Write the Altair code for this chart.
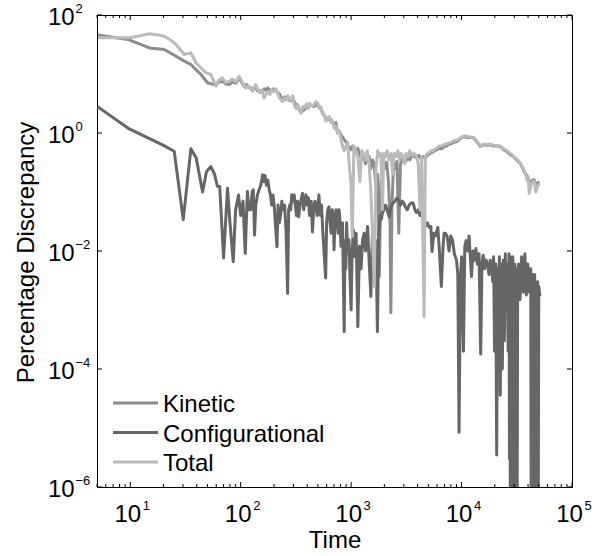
import altair as alt
import pandas as pd

FONT = "Liberation Sans"

# ---------------- data ----------------
kin_t = [5.1, 9.8, 14.9, 20.3, 26, 30, 35.4, 40, 43.7, 50,
         57.6, 63, 68.5, 73, 78.7, 84, 90, 97, 103, 108,
         113, 118, 123, 128, 133, 137, 142, 148, 153, 158,
         164, 170, 175, 181, 190, 198, 208, 217, 225, 232,
         239, 250, 258, 265, 275, 285, 295, 305, 318, 330,
         340, 351, 365, 380, 395, 410, 420, 440, 463, 480,
         500, 516, 532, 550, 570, 590, 611, 635, 656, 680,
         700, 727, 753, 780, 807, 835, 865, 900, 930, 960,
         994, 1030, 1070, 1110, 1150, 1200, 1250, 1300, 1350, 1400,
         1455, 1510, 1560, 1614, 1680, 1740, 1800, 1850, 1900, 1960,
         2020, 2100, 2180, 2250, 2290, 2340, 2420, 2500, 2600, 2700,
         2800, 2900, 3000, 3120, 3250, 3400, 3550, 3720, 3900, 4100,
         4300, 4500, 4700, 4900, 5100, 5270, 5500, 5750, 6000, 6300,
         6600, 6950, 7300, 7700, 8100, 8600, 9160, 9700, 10500, 11200,
         12000, 12900, 13800, 14800, 15800, 17000, 18200, 19500, 21000, 22400,
         24000, 25800, 27600, 29500, 31500, 33000, 34000, 35500, 37000, 38200,
         39000, 40000, 41000, 42500, 44000, 45600, 47000, 48500, 50500]
kin_v = [46, 38, 27.7, 26, 20, 17, 14.5, 11.5, 9.8, 7.1,
         6.6, 7.2, 7.5, 6.8, 6.6, 7.3, 7.0, 8.6, 7.0, 6.2,
         6.6, 6.0, 5.8, 5.4, 5.9, 5.7, 5.2, 5.0, 5.3, 5.1,
         5.6, 5.3, 5.8, 5.5, 5.2, 5.6, 5.4, 4.8, 4.6, 4.0,
         3.7, 4.1, 3.7, 3.9, 3.6, 3.5, 4.2, 3.4, 3.0, 2.9,
         2.5, 2.2, 2.4, 2.5, 2.8, 2.7, 3.0, 2.9, 2.8, 3.1,
         2.9, 2.7, 2.65, 2.2, 2.0, 1.8, 1.68, 1.75, 1.7, 1.55,
         1.4, 1.5, 1.0, 1.05, 0.95, 0.85, 0.77, 0.7, 0.62, 0.58,
         0.52, 0.6, 0.5, 0.45, 0.55, 0.42, 0.35, 0.45, 0.3, 0.4,
         0.4, 0.25, 0.35, 0.31, 0.12, 0.2, 0.0037, 0.08, 0.3, 0.35,
         0.25, 0.32, 0.15, 0.03, 0.0009, 0.05, 0.3, 0.25, 0.33, 0.02,
         0.3, 0.35, 0.4, 0.33, 0.38, 0.35, 0.42, 0.4, 0.38, 0.42,
         0.36, 0.4, 0.38, 0.42, 0.44, 0.46, 0.48, 0.5, 0.52, 0.55,
         0.54, 0.59, 0.6, 0.65, 0.66, 0.7, 0.72, 0.8, 0.87, 0.85,
         0.84, 0.82, 0.7, 0.59, 0.63, 0.62, 0.63, 0.6, 0.6, 0.59,
         0.52, 0.48, 0.43, 0.4, 0.35, 0.32, 0.31, 0.26, 0.22, 0.2,
         0.195, 0.17, 0.15, 0.14, 0.16, 0.16, 0.12, 0.14, 0.15]

cfg_t = [5.05, 9.8, 14, 19.6, 25, 30.2, 35.4, 39.5, 45.2, 49,
         53.7, 58, 61.6, 64.6, 70, 76, 80, 85.6, 90, 95.6,
         100, 105, 110, 115, 119, 123.5, 127, 130, 133.5, 137,
         142, 147, 152, 158, 162, 166, 171, 176, 181, 186,
         191, 196, 201, 206, 213, 218, 224, 231, 236, 243,
         250, 258, 266, 272, 278, 284, 290, 297, 305, 312,
         320, 327, 335, 345, 355, 363, 372, 381, 390, 400,
         410, 420, 435, 447, 458, 470, 480, 492, 511, 525,
         540, 555, 568, 588, 600, 615, 630, 645, 660, 675,
         690, 700, 715, 730, 747, 763, 777, 790, 810, 835,
         865, 880, 895, 910, 930, 955, 975, 1000, 1020, 1050,
         1080, 1110, 1150, 1190, 1230, 1270, 1310, 1350, 1410, 1460,
         1510, 1560, 1600, 1630, 1680, 1730, 1780, 1830, 1880, 1920,
         1980, 2050, 2120, 2210, 2290, 2380, 2500, 2600, 2700, 2800,
         2900, 3000, 3110, 3230, 3350, 3500, 3640, 3780, 3900, 4050,
         4200, 4350, 4500, 4700, 4900, 5100, 5270, 5400, 5600, 5800,
         6100, 6300, 6560, 6800, 6950, 7150, 7400, 7700, 8000, 8300,
         8600, 9000, 9250, 9490, 9750, 10000, 10400, 10700, 11000, 11400,
         11700, 12000, 12300, 12700, 13100, 13500, 13900, 14400, 14900, 15300,
         15700, 16200, 16700, 17200, 17700, 18200, 18700, 19200, 19500, 19900,
         20400, 20800, 21200, 21600, 22000, 22400, 22900, 23400, 23900, 24400,
         24900, 25400, 25900, 26400, 26900, 27150, 27400, 27650, 27900, 28200,
         28500, 28800, 29100, 29400, 29700, 30000, 30300, 30600, 30900, 31200,
         31500, 31850, 32200, 32800, 33800, 35000, 36200, 37400, 38600,
         39800, 41100, 42300, 42750, 43200, 43650, 44100, 44550, 45000, 45450,
         45900, 46400, 46900, 47400, 47900, 48400, 48900, 49400, 50000, 51200]
cfg_v = [2.8, 1.17, 0.85, 0.63, 0.49, 0.034, 0.54, 0.38, 0.10, 0.22,
         0.27, 0.2, 0.124, 0.124, 0.0076, 0.116, 0.03, 0.0066, 0.05, 0.089,
         0.04, 0.07, 0.0091, 0.102, 0.05, 0.05, 0.1, 0.109, 0.0186, 0.06,
         0.09, 0.11, 0.13, 0.195, 0.15, 0.19, 0.13, 0.16, 0.11, 0.09,
         0.06, 0.089, 0.06, 0.03, 0.0118, 0.06, 0.03, 0.044, 0.07, 0.05,
         0.06, 0.02, 0.0019, 0.05, 0.06, 0.05, 0.09, 0.07, 0.089, 0.06,
         0.04, 0.07, 0.038, 0.06, 0.08, 0.095, 0.05, 0.07, 0.09, 0.06,
         0.08, 0.04, 0.07, 0.021, 0.05, 0.07, 0.06, 0.04, 0.089, 0.04,
         0.06, 0.02, 0.01, 0.0035, 0.03, 0.05, 0.056, 0.03, 0.02, 0.05,
         0.04, 0.0105, 0.03, 0.05, 0.04, 0.02, 0.05, 0.035, 0.012, 0.03,
         4.3e-4, 0.015, 0.005, 0.03, 0.01, 0.0155, 0.004, 0.001, 0.01, 0.023,
         0.008, 0.02, 5.2e-4, 0.012, 0.005, 0.0155, 0.02, 0.01, 0.026, 0.006,
         0.0017, 0.02, 0.009, 0.0032, 0.015, 4.3e-4, 0.02, 0.04, 0.035, 0.044,
         0.05, 0.06, 0.05, 0.038, 0.055, 0.065, 0.07, 0.079, 0.072, 0.06,
         0.07, 0.065, 0.055, 0.05, 0.06, 0.065, 0.065, 0.05, 0.045, 0.05,
         0.04, 0.045, 0.03, 0.026, 0.03, 0.025, 0.026, 0.0098, 0.02, 0.018,
         0.025, 0.01, 0.0025, 0.012, 0.02, 0.02, 0.018, 0.01, 0.018, 0.015,
         0.009, 0.007, 0.004, 8.5e-6, 0.003, 0.008, 2e-4, 0.012, 0.015, 0.01,
         0.018, 0.008, 0.0037, 0.01, 0.007, 0.011, 0.006, 0.009, 1.8e-4, 0.006,
         0.0085, 0.005, 0.007, 0.006, 0.004, 0.007, 0.005, 0.003, 0.008, 2e-4,
         0.006, 3.5e-6, 0.005, 5e-4, 0.008, 3.6e-5, 0.006, 1e-4, 0.007, 3e-4,
         0.009, 0.001, 0.006, 2e-4, 0.009, 3e-6, 0.007, 1e-7, 0.008, 1e-7,
         0.006, 1e-7, 0.008, 1e-7, 0.005, 1e-7, 0.006, 1e-7, 0.004, 1e-7,
         0.005, 1e-7, 0.004, 0.006, 0.0015, 0.008, 0.002, 0.009, 0.0018,
         0.006, 0.002, 0.005, 1e-7, 0.003, 1e-7, 0.004, 1e-7, 0.003, 1e-7,
         0.004, 1e-7, 0.003, 1e-7, 0.002, 1e-7, 0.003, 1e-7, 0.0025, 0.0017]

tot_t = [5.1, 9.8, 12, 14.9, 18, 20.3, 23, 26, 30.8, 35.4,
         39.5, 44, 48.4, 53.7, 59.8, 63, 68.5, 73, 78.7, 84,
         90, 97, 104, 111, 118, 123, 128, 137, 143, 150,
         156, 163, 170, 176, 184, 190, 198, 208, 217, 225,
         239, 250, 258, 268, 280, 295, 305, 318, 330, 340,
         351, 365, 380, 395, 410, 420, 440, 463, 480, 500,
         516, 532, 550, 570, 590, 611, 635, 656, 680, 700,
         727, 753, 780, 807, 835, 865, 900, 930, 960, 994,
         1025, 1060, 1100, 1150, 1200, 1250, 1300, 1350, 1400, 1455,
         1510, 1560, 1620, 1680, 1740, 1800, 1860, 1920, 1980, 2050,
         2120, 2200, 2290, 2380, 2450, 2550, 2650, 2750, 2850, 2950,
         3050, 3150, 3280, 3400, 3550, 3720, 3900, 4050, 4200, 4350,
         4450, 4580, 4700, 4900, 5100, 5270, 5500, 5750, 6000, 6300,
         6600, 6950, 7300, 7700, 8100, 8600, 9160, 9700, 10500, 11200,
         12000, 12900, 13800, 14800, 15800, 17000, 18200, 19500, 21000, 22400,
         24000, 25800, 27600, 29500, 31500, 33000, 34000, 35500, 37000, 38200,
         39000, 40000, 41000, 42500, 44000, 45600, 47000, 48500, 50500]
tot_v = [41, 41, 44, 48, 46, 43.7, 38, 31.6, 21.4, 22.8,
         15.4, 12.5, 10.5, 9.8, 6.2, 7.8, 8.6, 7.2, 7.5, 8.2,
         7.4, 9.1, 7.2, 5.8, 6.3, 5.6, 5.1, 6.6, 5.5, 4.8,
         5.3, 3.9, 4.6, 5.0, 4.5, 5.4, 5.0, 5.6, 4.6, 3.9,
         3.4, 3.9, 3.6, 4.3, 3.6, 4.2, 3.0, 2.6, 3.0, 2.4,
         2.2, 2.8, 2.7, 3.1, 2.6, 3.2, 2.9, 3.0, 3.4, 3.2,
         2.6, 2.8, 2.1, 2.1, 1.6, 1.8, 1.9, 1.5, 1.6, 1.2,
         1.3, 1.0, 1.1, 0.8, 0.6, 0.5, 0.6, 0.7, 0.3, 0.15,
         0.0176, 0.6, 0.5, 0.4, 0.15, 0.5, 0.45, 0.35, 0.5, 0.3,
         0.1, 0.02, 0.0025, 0.25, 0.5, 0.4, 0.45, 0.05, 0.45, 0.4,
         0.5, 0.35, 0.45, 0.2, 0.45, 0.4, 0.5, 0.35, 0.45, 0.4,
         0.3, 0.45, 0.4, 0.5, 0.42, 0.45, 0.4, 0.3, 0.05, 0.4,
         0.02, 7.7e-4, 0.4, 0.45, 0.47, 0.5, 0.5, 0.53, 0.56, 0.6,
         0.6, 0.64, 0.65, 0.68, 0.7, 0.74, 0.76, 0.82, 0.9, 0.88,
         0.86, 0.84, 0.72, 0.6, 0.65, 0.64, 0.65, 0.62, 0.61, 0.6,
         0.54, 0.5, 0.45, 0.41, 0.36, 0.33, 0.31, 0.27, 0.23, 0.2,
         0.16, 0.18, 0.095, 0.13, 0.15, 0.15, 0.1, 0.12, 0.14]

series_names = ["Kinetic", "Configurational", "Total"]
series_colors = ["#8c8c8c", "#666666", "#bbbbbb"]

x_major = [10, 100, 1000, 10000, 100000]
x_exp = ["1", "2", "3", "4", "5"]
x_minor = [5, 6, 7, 8, 9, 20, 30, 40, 50, 60, 70, 80, 90,
           200, 300, 400, 500, 600, 700, 800, 900,
           2000, 3000, 4000, 5000, 6000, 7000, 8000, 9000,
           20000, 30000, 40000, 50000, 60000, 70000, 80000, 90000]
y_major = [1e-6, 1e-4, 1e-2, 1, 100]
y_exp = ["\u22126", "\u22124", "\u22122", "0", "2"]

# ---------------- chart ----------------
W, H = 475, 472
xs = alt.Scale(type="log", domain=[5, 1e5], nice=False)
ys = alt.Scale(type="log", domain=[1e-6, 1e2], nice=False)

x_axis = alt.Axis(labels=False, ticks=False, domain=False, grid=False,
                  title="Time", titleFont=FONT, titleFontSize=24,
                  titleFontWeight="normal", titleColor="black",
                  titleBaseline="alphabetic", titleY=60)
y_axis = alt.Axis(labels=False, ticks=False, domain=False, grid=False,
                  title="Percentage Discrepancy", titleFont=FONT,
                  titleFontSize=24, titleFontWeight="normal",
                  titleColor="black", titleBaseline="alphabetic",
                  titleAlign="center", titleAngle=270,
                  titleX=-63.5, titleY=H / 2 + 1)

X = alt.X("t:Q", scale=xs, axis=x_axis)
Y = alt.Y("v:Q", scale=ys, axis=y_axis)

assert len(cfg_t) == len(cfg_v) and len(kin_t) == len(kin_v) and len(tot_t) == len(tot_v)

series_data = {
    "Kinetic": pd.DataFrame({"t": kin_t, "v": kin_v}),
    "Configurational": pd.DataFrame({"t": cfg_t, "v": cfg_v}),
    "Total": pd.DataFrame({"t": tot_t, "v": tot_v}),
}

layers = []
for name, col in zip(series_names, series_colors):
    layers.append(
        alt.Chart(series_data[name]).mark_line(
            clip=True, strokeWidth=3, color=col, strokeJoin="round"
        ).encode(x=X, y=Y)
    )

# inward ticks (frame comes from the view stroke)
xmaj = pd.DataFrame({"t": x_major, "exp": x_exp})
xmin = pd.DataFrame({"t": x_minor})
ymaj = pd.DataFrame({"v": y_major, "exp": y_exp})

for df, ln in ((xmaj, 5), (xmin, 3)):
    layers.append(alt.Chart(df).mark_rule(color="black", strokeWidth=1).encode(
        x=X, y=alt.value(H), y2=alt.value(H - ln)))
    layers.append(alt.Chart(df).mark_rule(color="black", strokeWidth=1).encode(
        x=X, y=alt.value(0), y2=alt.value(ln)))
layers.append(alt.Chart(ymaj).mark_rule(color="black", strokeWidth=1).encode(
    y=Y, x=alt.value(0), x2=alt.value(5)))
layers.append(alt.Chart(ymaj).mark_rule(color="black", strokeWidth=1).encode(
    y=Y, x=alt.value(W), x2=alt.value(W - 5)))

# tick labels: "10" with superscript exponent
layers.append(alt.Chart(xmaj).mark_text(
    font=FONT, fontSize=24, align="center", baseline="alphabetic", dx=-2.5, color="black"
).encode(x=X, y=alt.value(H + 35), text=alt.value("10")))
layers.append(alt.Chart(xmaj).mark_text(
    font=FONT, fontSize=13, align="left", baseline="alphabetic", dx=12.5, color="black"
).encode(x=X, y=alt.value(H + 23), text="exp:N"))
layers.append(alt.Chart(ymaj).mark_text(
    font=FONT, fontSize=24, align="left", baseline="alphabetic", dy=9.5, color="black"
).encode(y=Y, x=alt.value(-49), text=alt.value("10")))
layers.append(alt.Chart(ymaj).mark_text(
    font=FONT, fontSize=13, align="left", baseline="alphabetic", dy=-2, color="black"
).encode(y=Y, x=alt.value(-21.5), text="exp:N"))

# legend (inside, lower left)
leg = pd.DataFrame({"series": series_names})
for i, (name, col) in enumerate(zip(series_names, series_colors)):
    row = leg[leg.series == name]
    yy = 388 + 29.5 * i
    layers.append(alt.Chart(row).mark_rule(strokeWidth=3, color=col).encode(
        x=alt.value(16), x2=alt.value(61), y=alt.value(yy)))
    layers.append(alt.Chart(row).mark_text(
        font=FONT, fontSize=24, align="left", baseline="middle", color="black"
    ).encode(x=alt.value(66), y=alt.value(yy + 2), text="series:N"))

chart = alt.layer(*layers).properties(
    width=W, height=H,
    padding={"left": 97, "top": 15, "right": 32, "bottom": 69},
    autosize=alt.AutoSizeParams(type="none"),
    background="white",
).configure_view(stroke="black", strokeWidth=1)

chart.save("out.html", embed_options={"renderer": "svg", "actions": False})
